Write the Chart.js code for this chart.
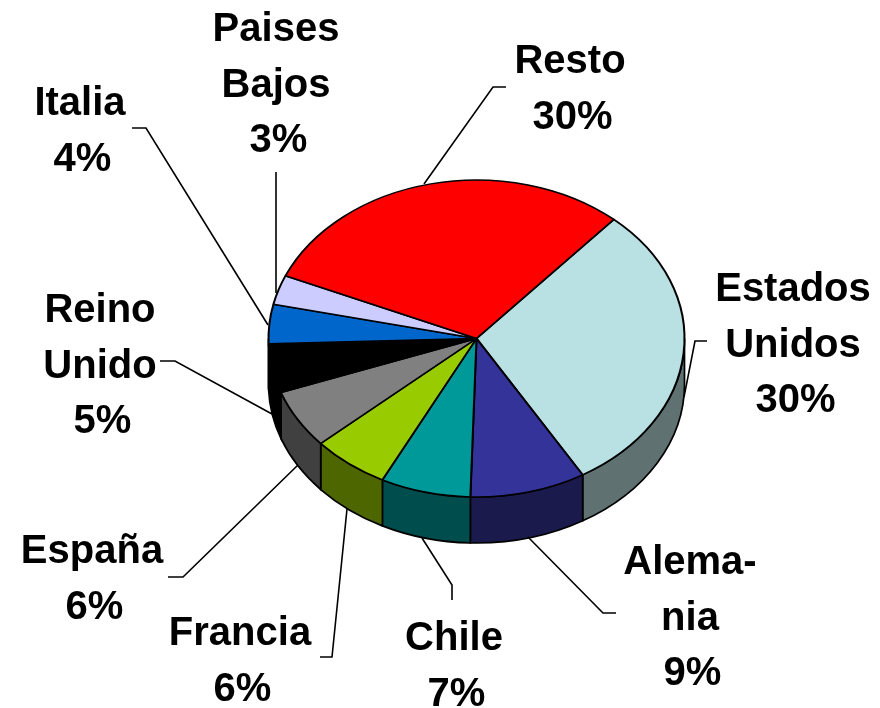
<!DOCTYPE html>
<html>
<head>
<meta charset="utf-8">
<style>
  html, body { margin: 0; padding: 0; background: #fff; }
  canvas { display: block; }
</style>
<script src="https://cdn.jsdelivr.net/npm/chart.js@4"></script>
</head>
<body>
<canvas id="chart" width="880" height="708"></canvas>
<script>
const categories = ["Estados Unidos", "Alemania", "Chile", "Francia", "España", "Reino Unido", "Italia", "Paises Bajos", "Resto"];
const values = [30, 9, 7, 6, 6, 5, 4, 3, 30];
const labelLines = [["Estados", "Unidos"], ["Alema-", "nia"], ["Chile"], ["Francia"], ["España"], ["Reino", "Unido"], ["Italia"], ["Paises", "Bajos"], ["Resto"]];
const topColors = ["#B9E0E3", "#333399", "#009999", "#99CC00", "#808080", "#000000", "#0066CC", "#CCCCFF", "#FF0000"];
const sideColors = ["#5F7171", "#1A1A4D", "#004D4D", "#4D6600", "#404040", "#000000", "#003366", "#666680", "#800000"];

// pie geometry, the flat chart.js pie gets squashed into an ellipse
const cx = 476.5, cy = 338.5, rx = 208, ry = 158.5, depth = 46;

// where each label block sits (center x, first baseline) and its leader line
const labelPos = [[793, 301], [690, 574], [454, 650], [240, 645], [92, 563], [100, 322], [80, 115], [276, 41], [570, 73]];
const leaders = [
  [[707, 341], [695, 341], [684, 397]],
  [[528, 537], [603, 613], [616, 613]],
  [[422, 538], [452, 585], [452, 600]],
  [[347, 509], [332, 657], [320, 657]],
  [[298, 465], [183, 577], [168, 577]],
  [[272, 414], [175, 361], [160, 361]],
  [[268, 325], [146, 128], [132, 128]],
  [[276, 293], [276, 172]],
  [[424, 184], [493, 87], [506, 87]]
];

const pie3d = {
  id: "pie3d",
  beforeDatasetsDraw(chart) {
    const ctx = chart.ctx;
    const arcs = chart.getDatasetMeta(0).data;
    ctx.save();
    ctx.lineWidth = 1.7;
    ctx.strokeStyle = "#000";
    // side wall, only the part of each slice facing front
    arcs.forEach((arc, i) => {
      const full = Math.PI * 2;
      let a0 = arc.startAngle % full;
      let a1 = a0 + (arc.endAngle - arc.startAngle);
      [0, full, -full].forEach((shift) => {
        const s = Math.max(a0 + shift, 0);
        const e = Math.min(a1 + shift, Math.PI);
        if (e <= s) return;
        ctx.beginPath();
        ctx.ellipse(cx, cy, rx, ry, 0, s, e);
        ctx.ellipse(cx, cy + depth, rx, ry, 0, e, s, true);
        ctx.closePath();
        ctx.fillStyle = sideColors[i];
        ctx.fill();
        ctx.stroke();
      });
    });
    ctx.restore();

    ctx.save();
    ctx.translate(cx, cy);
    ctx.scale(1, ry / rx);
    ctx.translate(-cx, -cy);
  },
  afterDatasetsDraw(chart) {
    const ctx = chart.ctx;
    ctx.restore();

    // leader lines and labels
    ctx.save();
    ctx.strokeStyle = "#000";
    ctx.lineWidth = 1.6;
    leaders.forEach((pts) => {
      ctx.beginPath();
      pts.forEach((p, j) => (j ? ctx.lineTo(p[0], p[1]) : ctx.moveTo(p[0], p[1])));
      ctx.stroke();
    });
    ctx.fillStyle = "#000";
    ctx.font = "bold 40px 'Liberation Sans'";
    ctx.textAlign = "center";
    ctx.textBaseline = "alphabetic";
    labelLines.forEach((lines, i) => {
      const [x, y] = labelPos[i];
      lines.forEach((row, j) => ctx.fillText(row, x, y + j * 55.5));
      // the percent rows sit a little to the right of the names
      ctx.fillText(values[i] + "%", x + 2.5, y + lines.length * 55.5);
    });
    ctx.restore();
  }
};

new Chart(document.getElementById("chart"), {
  type: "pie",
  data: {
    labels: categories,
    datasets: [{
      data: values,
      backgroundColor: topColors,
      borderColor: "#000",
      borderWidth: 2,
      radius: rx
    }]
  },
  options: {
    responsive: false,
    animation: false,
    rotation: 41.3,
    // keeps the pie center on cx, cy
    layout: { padding: { left: cx - rx, right: 880 - cx - rx, top: cy - rx, bottom: 708 - cy - rx } },
    plugins: { legend: { display: false }, tooltip: { enabled: false } }
  },
  plugins: [pie3d]
});
</script>
</body>
</html>
